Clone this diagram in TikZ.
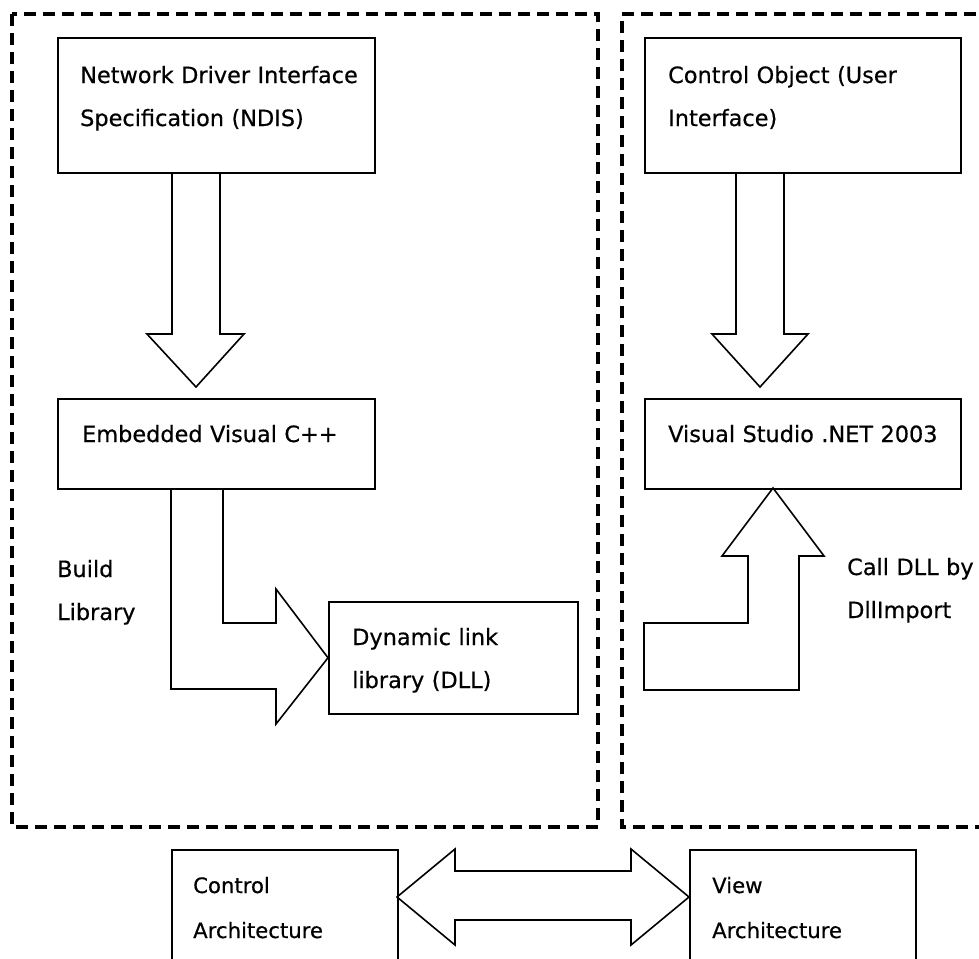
\documentclass[tikz,border=0pt]{standalone}
\usepackage{fontspec}
\setmainfont{DejaVu Sans}[FakeBold=0.5]
\tikzset{
  group/.style={line width=3.2pt, dash pattern=on 12pt off 7pt},
  box/.style={draw, line width=1.6pt, anchor=north west, inner sep=0pt},
  blockarrow/.style={draw, line width=1.6pt, line join=miter},
  lbl/.style={anchor=base west, inner sep=0pt, text width=300pt, align=left,
    font=\fontsize{22.4}{43}\selectfont},
  smalllbl/.style={lbl, text width=220pt, font=\fontsize{21.2}{45}\selectfont}
}
\begin{document}
\begin{tikzpicture}[x=1pt,y=-1pt]
        \clip (0,0) rectangle (979,958);

        % the two dashed groups
        \draw[group] (12,14) rectangle (598,827);
        \draw[group] (995,14) -- (622,14) -- (622,827) -- (995,827);

        % left group
        \node[box, minimum width=317, minimum height=135] (ndis) at (57,37) {};
        \node[lbl] (ndistext) at (80,83) {Network Driver Interface\\Specification (NDIS)};

        \node[box, minimum width=317, minimum height=90] (evc) at (57,398) {};
        \node[lbl] (evctext) at (82,442) {Embedded Visual C++};

        \node[box, minimum width=249, minimum height=112] (dll) at (328,601) {};
        \node[lbl] (dlltext) at (352,645) {Dynamic link\\library (DLL)};

        \node[lbl] (buildtext) at (57,577) {Build\\Library};

        \path[blockarrow] (172,172) -- (172,334) -- (147,334) -- (196,387)
            -- (244,334) -- (220,334) -- (220,172);
        \path[blockarrow] (171,488) -- (171,689) -- (276,689) -- (276,724)
            -- (dll.west) -- (276,589) -- (276,623) -- (223,623) -- (223,488);

        % right group
        \node[box, minimum width=316, minimum height=135] (ctrlobj) at (644,37) {};
        \node[lbl] (ctrlobjtext) at (668,83) {Control Object (User\\Interface)};

        \node[box, minimum width=316, minimum height=90] (vsnet) at (644,398) {};
        \node[lbl] (vsnettext) at (668,442) {Visual Studio .NET 2003};

        \node[lbl] (calltext) at (847,575) {Call DLL by\\DllImport};

        \path[blockarrow] (736,172) -- (736,334) -- (712,334) -- (760,387)
            -- (808,334) -- (784,334) -- (784,172);
        \path[blockarrow] (773,488) -- (824,556) -- (799,556) -- (799,690)
            -- (644,690) -- (644,623) -- (748,623) -- (748,556) -- (722,556) -- cycle;

        % architectures
        \node[box, minimum width=226, minimum height=130] (ctrlarch) at (171,849) {};
        \node[smalllbl] (ctrlarchtext) at (193,893) {Control\\Architecture};

        \node[box, minimum width=226, minimum height=130] (viewarch) at (689,849) {};
        \node[smalllbl] (viewarchtext) at (712,893) {View\\Architecture};

        \path[blockarrow] (397,897) -- (455,849) -- (455,871) -- (631,871)
            -- (631,849) -- (689,897) -- (631,945) -- (631,920) -- (455,920)
            -- (455,945) -- cycle;

    \end{tikzpicture}
\end{document}
